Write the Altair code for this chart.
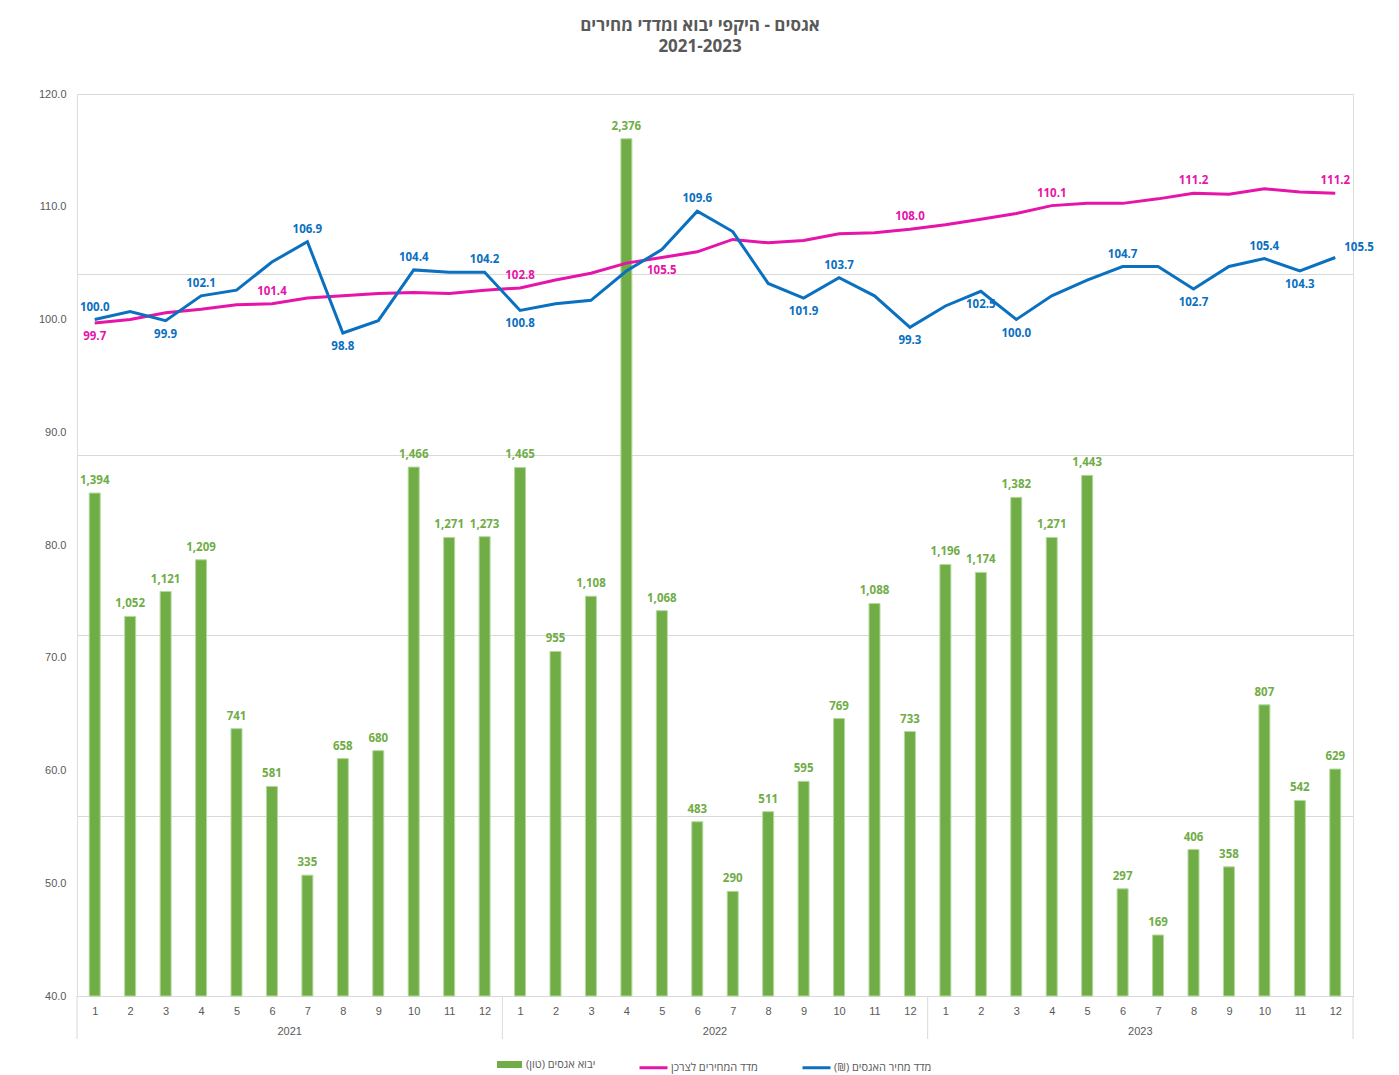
import altair as alt
import pandas as pd

# ---------------- data ----------------
YEARS = ["2021", "2022", "2023"]
MONTHS = list(range(1, 13))

TONS_2021 = [1394, 1052, 1121, 1209, 741, 581, 335, 658, 680, 1466, 1271, 1273]
TONS_2022 = [1465, 955, 1108, 2376, 1068, 483, 290, 511, 595, 769, 1088, 733]
TONS_2023 = [1196, 1174, 1382, 1271, 1443, 297, 169, 406, 358, 807, 542, 629]

NUT_PRICE_INDEX = [100.0, 100.7, 99.9, 102.1, 102.6, 105.1, 106.9, 98.8, 99.9, 104.4, 104.2, 104.2,
                   100.8, 101.4, 101.7, 104.3, 106.2, 109.6, 107.8, 103.2, 101.9, 103.7, 102.1, 99.3,
                   101.2, 102.5, 100.0, 102.1, 103.5, 104.7, 104.7, 102.7, 104.7, 105.4, 104.3, 105.5]

CPI = [99.7, 100.0, 100.6, 100.9, 101.3, 101.4, 101.9, 102.1, 102.3, 102.4, 102.3, 102.6,
       102.8, 103.5, 104.1, 105.0, 105.5, 106.0, 107.1, 106.8, 107.0, 107.6, 107.7, 108.0,
       108.4, 108.9, 109.4, 110.1, 110.3, 110.3, 110.7, 111.2, 111.1, 111.6, 111.3, 111.2]

# which points carry a data label, and on which side
NUT_LABELS_ABOVE = [0, 3, 6, 9, 11, 17, 21, 29, 33]
NUT_LABELS_BELOW = [2, 7, 12, 20, 23, 25, 26, 31, 34]
NUT_LABELS_RIGHT = [35]
CPI_LABELS_ABOVE = [5, 12, 23, 27, 31, 35]
CPI_LABELS_BELOW = [0, 16]

BAR_NAME = "יבוא אגסים (טון)"
CPI_NAME = "מדד המחירים לצרכן"
NUT_NAME = "מדד מחיר האגסים (₪)\u200f"
TITLE = ["אגסים - היקפי יבוא ומדדי מחירים", "2021-2023"]

GREEN = "#70AD47"
PINK = "#E614A8"
BLUE = "#0A70C0"
GRAY_TXT = "#595959"
GRID = "#D9D9D9"
FONT = "Open Sans, Liberation Sans, DejaVu Sans, sans-serif"

# ---------------- tables ----------------
tons = TONS_2021 + TONS_2022 + TONS_2023
n = len(tons)
base = pd.DataFrame({
    "idx": list(range(n)),
    "month": MONTHS * len(YEARS),
    "year": [y for y in YEARS for _ in MONTHS],
    "tons": tons,
    "bar_series": [BAR_NAME] * n,
})


def pos_of(i, above, below, right=()):
    if i in above:
        return "above"
    if i in below:
        return "below"
    if i in right:
        return "right"
    return "none"


lines = pd.concat([
    pd.DataFrame({"idx": list(range(n)), "value": CPI, "series": CPI_NAME,
                  "pos": [pos_of(i, CPI_LABELS_ABOVE, CPI_LABELS_BELOW) for i in range(n)]}),
    pd.DataFrame({"idx": list(range(n)), "value": NUT_PRICE_INDEX, "series": NUT_NAME,
                  "pos": [pos_of(i, NUT_LABELS_ABOVE, NUT_LABELS_BELOW, NUT_LABELS_RIGHT) for i in range(n)]}),
], ignore_index=True)

years_df = pd.DataFrame({"year": YEARS,
                         "center": [12 * k + 5.5 for k in range(len(YEARS))]})
sep_df = pd.DataFrame({"sep": [12 * k - 0.5 for k in range(len(YEARS) + 1)]})

W, H = 1276, 902

x_scale = alt.Scale(domain=[-0.5, n - 0.5], nice=False, zero=False, padding=0)
x_axis = alt.Axis(values=list(range(n)), labelExpr="(datum.value % 12) + 1",
                  title=None, grid=False, ticks=False, tickSize=0, labelPadding=9,
                  domainColor=GRID, labelColor=GRAY_TXT, labelFontSize=11,
                  labelFont="Liberation Sans", labelAngle=0)


def X(field):
    return alt.X(field, type="quantitative", scale=x_scale, axis=x_axis)


# ---------------- bars (secondary scale, hidden axis, gridlines) ----------------
y_tons = alt.Y("tons:Q", scale=alt.Scale(domain=[0, 2500], nice=False, padding=0),
               axis=alt.Axis(orient="right", values=[0, 500, 1000, 1500, 2000, 2500],
                             labels=False, ticks=False, domain=False, title=None,
                             grid=True, gridColor=GRID, gridWidth=1))

bars = alt.Chart(base).mark_bar(size=11, stroke="#B5D99C", strokeWidth=1).encode(
    x=X("idx"),
    y=y_tons,
    color=alt.Color("bar_series:N",
                    scale=alt.Scale(domain=[BAR_NAME], range=[GREEN]),
                    legend=alt.Legend(orient="none", legendX=420, legendY=958, title=None,
                                      symbolType="M-1,-0.28L1,-0.28L1,0.28L-1,0.28Z",
                                      symbolSize=625, symbolStrokeWidth=0,
                                      labelFont=FONT, labelFontSize=11,
                                      labelColor=GRAY_TXT, labelOffset=4)),
)

bar_text = alt.Chart(base).mark_text(font=FONT, fontSize=11.5, fontWeight="bold",
                                     color=GREEN, baseline="middle", dy=-12).encode(
    x=X("idx"),
    y=y_tons,
    text=alt.Text("tons:Q", format=","),
)

seps = alt.Chart(sep_df).mark_rule(color=GRID, strokeWidth=1).encode(
    x=X("sep"),
    y=alt.value(H),
    y2=alt.value(H + 43),
)

year_text = alt.Chart(years_df).mark_text(font="Liberation Sans", fontSize=11,
                                          color=GRAY_TXT, baseline="middle").encode(
    x=X("center"),
    y=alt.value(H + 36),
    text="year:N",
)

bar_layer = alt.layer(bars, bar_text, seps, year_text)

# ---------------- lines (primary left axis) ----------------
y_idx_scale = alt.Scale(domain=[40, 120], nice=False, zero=False)
y_idx_axis = alt.Axis(orient="left", values=list(range(40, 121, 10)), format=".1f",
                      title=None, grid=False, ticks=False, tickSize=0, domain=False,
                      labelPadding=11, labelColor=GRAY_TXT, labelFontSize=11,
                      labelFont="Liberation Sans")


def Y():
    return alt.Y("value:Q", scale=y_idx_scale, axis=y_idx_axis)


line_marks = alt.Chart(lines).mark_line(strokeWidth=3).encode(
    x=X("idx"),
    y=Y(),
    color=alt.Color("series:N",
                    scale=alt.Scale(domain=[CPI_NAME, NUT_NAME], range=[PINK, BLUE]),
                    sort=[CPI_NAME, NUT_NAME],
                    legend=alt.Legend(orient="none", legendX=561, legendY=958, title=None,
                                      direction="horizontal", symbolType="stroke",
                                      symbolSize=784, symbolStrokeWidth=3,
                                      labelFont=FONT, labelFontSize=11,
                                      labelColor=GRAY_TXT, labelOffset=2,
                                      columnPadding=38)),
    detail="series:N",
)

label_layers = []
for name, col in [(CPI_NAME, PINK), (NUT_NAME, BLUE)]:
    for pos, kw in [("above", dict(dy=-12, align="center")),
                    ("below", dict(dy=14, align="center")),
                    ("right", dict(dx=9, dy=-9, align="left"))]:
        label_layers.append(
            alt.Chart(lines).transform_filter(
                (alt.datum.series == name) & (alt.datum.pos == pos)
            ).mark_text(font=FONT, fontSize=11.5, fontWeight="bold", color=col,
                        baseline="middle", **kw).encode(
                x=X("idx"),
                y=Y(),
                text=alt.Text("value:Q", format=".1f"),
            )
        )

line_layer = alt.layer(line_marks, *label_layers)

chart = alt.layer(bar_layer, line_layer).resolve_scale(
    y="independent", color="independent"
).properties(
    width=W,
    height=H,
    padding={"left": 30, "top": 9, "right": 5, "bottom": 0},
    title=alt.TitleParams(TITLE, font=FONT, fontSize=17, fontWeight="bold",
                          color=GRAY_TXT, anchor="middle", lineHeight=21, offset=32,
                          dx=-15),
).configure_view(stroke=None).configure(background="white")

chart.save("out.html", embed_options={"renderer": "svg", "actions": False})
